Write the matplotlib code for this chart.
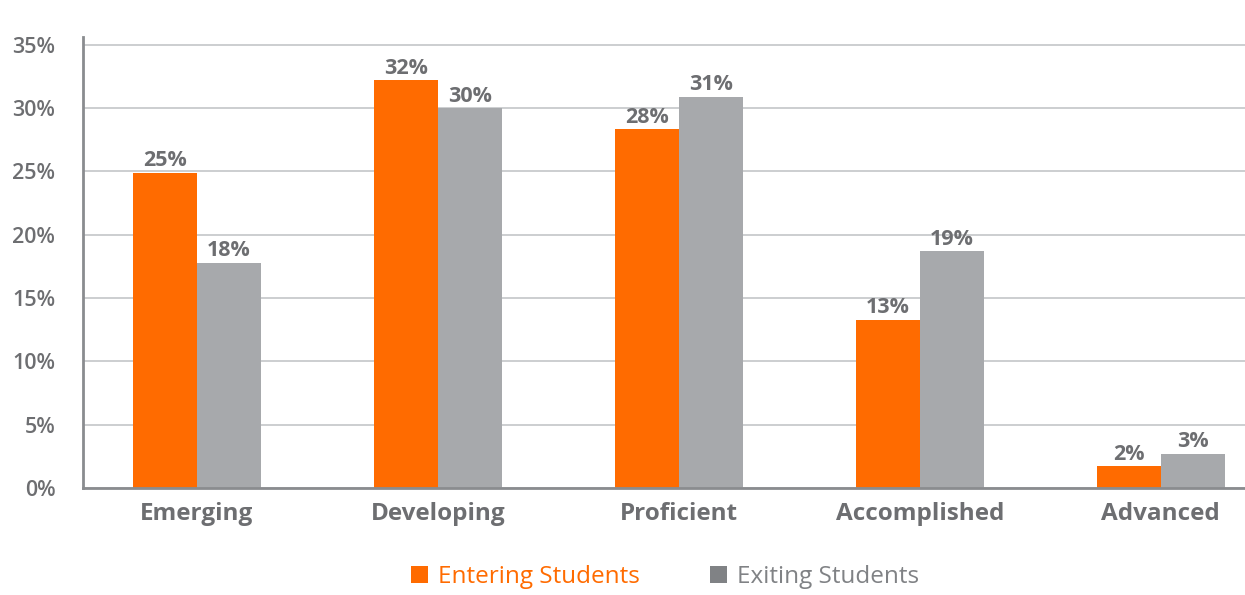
import matplotlib
matplotlib.use("Agg")
import matplotlib.pyplot as plt
from matplotlib.patches import Patch
import numpy as np

categories = ["Emerging", "Developing", "Proficient", "Accomplished", "Advanced"]
entering = [24.9, 32.2, 28.3, 13.3, 1.7]
exiting = [17.8, 30.0, 30.9, 18.7, 2.7]
series_names = ["Entering Students", "Exiting Students"]
yticks = [0, 5, 10, 15, 20, 25, 30, 35]

ORANGE = "#FF6B00"
GREY_BAR = "#A7A9AC"
GREY_LEG = "#808285"
TEXT = "#6D6E71"
GRID = "#C4C6C8"
SPINE = "#8A8C8F"

plt.rcParams["font.family"] = ["Open Sans", "DejaVu Sans"]

fig = plt.figure(figsize=(12.45, 5.95), dpi=100)
ax = fig.add_axes([0.0667, 0.1798, 0.9333, 0.758])

x = np.arange(len(categories))
w = 0.266
b1 = ax.bar(x - w / 2, entering, w, color=ORANGE, zorder=3)
b2 = ax.bar(x + w / 2, exiting, w, color=GREY_BAR, zorder=3)

for cont, vals in ((b1, entering), (b2, exiting)):
    ax.bar_label(cont, labels=[f"{round(v)}%" for v in vals], padding=1,
                 fontsize=15.5, fontweight="bold", color=TEXT)

ax.set_xlim(-0.473, 4.35)
ax.set_ylim(0, 35.6)
ax.set_yticks(yticks)
ax.set_yticklabels([f"{t}%" for t in yticks], fontsize=15.5, color=TEXT,
                   fontweight="semibold")
ax.set_xticks(x)
ax.set_xticklabels(categories, fontsize=17.5, fontweight="bold", color=TEXT)
ax.tick_params(axis="both", length=0)
ax.tick_params(axis="x", pad=10)
ax.tick_params(axis="y", pad=20)

ax.grid(axis="y", color=GRID, linewidth=1.2, zorder=0)
ax.set_axisbelow(True)
for s in ("top", "right"):
    ax.spines[s].set_visible(False)
for s in ("left", "bottom"):
    ax.spines[s].set_color(SPINE)
    ax.spines[s].set_linewidth(2)
    ax.spines[s].set_zorder(4)

handles = [Patch(facecolor=ORANGE, edgecolor="none"),
           Patch(facecolor=GREY_LEG, edgecolor="none")]
leg = fig.legend(handles, series_names, loc="center", bbox_to_anchor=(0.534, 0.03),
                 ncol=2, frameon=False, fontsize=17.5, handlelength=0.7,
                 handleheight=0.7, handletextpad=0.4, columnspacing=2.9,
                 labelcolor=[ORANGE, GREY_LEG])

fig.savefig("out.png", dpi=100)
